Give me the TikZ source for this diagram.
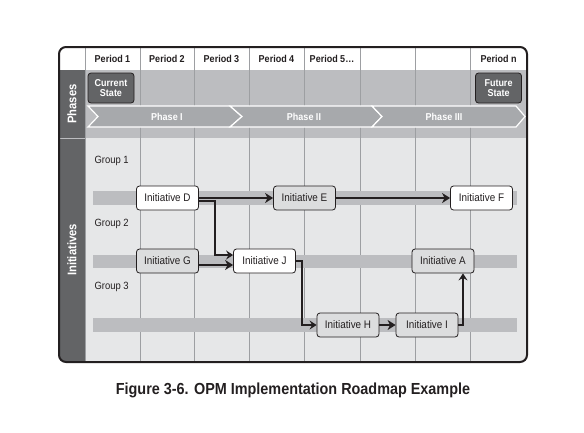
\documentclass[tikz,border=0pt]{standalone}
\usepackage{fontspec}
\setmainfont{Liberation Sans}[FakeStretch=0.9]
\usetikzlibrary{arrows.meta}

\definecolor{framedark}{HTML}{231F20}
\definecolor{sidegray}{HTML}{636466}
\definecolor{phasegray}{HTML}{BCBDC0}
\definecolor{initgray}{HTML}{E6E7E8}
\definecolor{lanegray}{HTML}{BCBDC0}
\definecolor{chevgray}{HTML}{A7A9AC}
\definecolor{boxgray}{HTML}{DCDDDE}
\definecolor{gridgray}{HTML}{9D9FA2}

\begin{document}
\begin{tikzpicture}[x=1pt,y=-1pt,
    initbox/.style={draw=framedark, line width=0.8pt, rounded corners=3pt,
        minimum width=62pt, minimum height=24pt, inner sep=0pt,
        font=\fontsize{11}{12}\selectfont, text=framedark},
    whitebox/.style={initbox, fill=white},
    graybox/.style={initbox, fill=boxgray},
    statebox/.style={draw=framedark, line width=0.8pt, fill=sidegray,
        rounded corners=3pt, minimum width=46pt, minimum height=30pt,
        inner sep=0pt, align=center, text=white,
        font=\bfseries\fontsize{10}{10.5}\selectfont},
    period/.style={font=\bfseries\fontsize{10}{12}\selectfont, text=framedark},
    group/.style={anchor=west, font=\fontsize{10.5}{12}\selectfont, text=framedark},
    phaselabel/.style={font=\bfseries\fontsize{10}{12}\selectfont, text=white},
    sidelabel/.style={rotate=90, font=\bfseries\fontsize{12.5}{14}\selectfont, text=white},
    chevron/.style={fill=chevgray, draw=white, line width=1.2pt},
    lane/.style={fill=lanegray},
    flow/.style={draw=framedark, line width=2.8pt,
        -{Stealth[length=8pt,width=10pt,inset=2.5pt]}},
    link/.style={draw=framedark, line width=1.8pt,
        -{Stealth[length=7pt,width=9pt,inset=2.5pt]}}
]

    % --- Page size ---
    \useasboundingbox (0,0) rectangle (584,432);

    % --- Background regions ---
    \begin{scope}
        \clip[rounded corners=7pt] (59,47) rectangle (527,362);
        \fill[white] (59,47) rectangle (527,70);
        \fill[phasegray] (85,70) rectangle (527,138);
        \fill[initgray] (85,138) rectangle (527,362);
        \fill[sidegray] (59,70) rectangle (85,362);
        \draw[phasegray, line width=1pt] (59,138) -- (85,138);
    \end{scope}

    % --- Period grid ---
    \foreach \x in {85,140,194,249,304,360,415,470}
        \draw[gridgray, line width=0.6pt] (\x,47) -- (\x,362);

    % --- Period headers ---
    \node[period] (p1) at (112.5,58.5) {Period 1};
    \node[period] (p2) at (167,58.5) {Period 2};
    \node[period] (p3) at (221.5,58.5) {Period 3};
    \node[period] (p4) at (276.5,58.5) {Period 4};
    \node[period] (p5) at (332,58.5) {Period 5\dots};
    \node[period] (pn) at (498.5,58.5) {Period n};

    % --- Side labels ---
    \node[sidelabel] (phases) at (72,104) {Phases};
    \node[sidelabel] (initiatives) at (72,250) {Initiatives};

    % --- States ---
    \node[statebox] (current) at (111,88) {Current\\State};
    \node[statebox] (future) at (498.5,88) {Future\\State};

    % --- Phase chevrons ---
    \draw[chevron] (88,106) -- (230,106) -- (242,116.5) -- (230,127)
        -- (88,127) -- (98,116.5) -- cycle;
    \draw[chevron] (230,106) -- (372,106) -- (382,116.5) -- (372,127)
        -- (230,127) -- (242,116.5) -- cycle;
    \draw[chevron] (372,106) -- (516,106) -- (525,116.5) -- (516,127)
        -- (372,127) -- (382,116.5) -- cycle;
    \node[phaselabel] (ph1) at (167,116.5) {Phase I};
    \node[phaselabel] (ph2) at (304,116.5) {Phase II};
    \node[phaselabel] (ph3) at (444,116.5) {Phase III};

    % --- Groups and lanes ---
    \node[group] (g1) at (91,161) {Group 1};
    \node[group] (g2) at (91,224) {Group 2};
    \node[group] (g3) at (91,287) {Group 3};
    \fill[lane] (93,191) rectangle (517,205);
    \fill[lane] (93,255) rectangle (517,268);
    \fill[lane] (93,318) rectangle (517,332);

    % --- Initiatives ---
    \node[whitebox] (D) at (167.5,198) {Initiative D};
    \node[graybox]  (E) at (304.5,198) {Initiative E};
    \node[whitebox] (F) at (481.5,198) {Initiative F};
    \node[graybox]  (G) at (167.5,261) {Initiative G};
    \node[whitebox] (J) at (264.5,261) {Initiative J};
    \node[graybox]  (A) at (443,261) {Initiative A};
    \node[graybox]  (H) at (348,325) {Initiative H};
    \node[graybox]  (I) at (427,325) {Initiative I};

    % --- Dependencies ---
    \draw[flow] (D.east) -- (E.west);
    \draw[flow] (E.east) -- (F.west);
    \draw[link] ([yshift=-3pt]D.east) -- ++(16,0) |- ([yshift=6pt]J.west);
    \draw[flow] ([yshift=-4pt]G.east) -- ([yshift=-4pt]J.west);
    \draw[link] (J.east) -- ++(6,0) |- (H.west);
    \draw[flow] (H.east) -- (I.west);
    \draw[link] (I.east) -| ([xshift=20pt]A.south);

    % --- Frame ---
    \draw[framedark, line width=2pt, rounded corners=7pt] (59,47) rectangle (527,362);

    % --- Caption ---
    \node[font=\bfseries\fontsize{16}{18}\selectfont, text=framedark] (caption)
        at (293,390) {Figure 3-6. OPM Implementation Roadmap Example};

\end{tikzpicture}
\end{document}
